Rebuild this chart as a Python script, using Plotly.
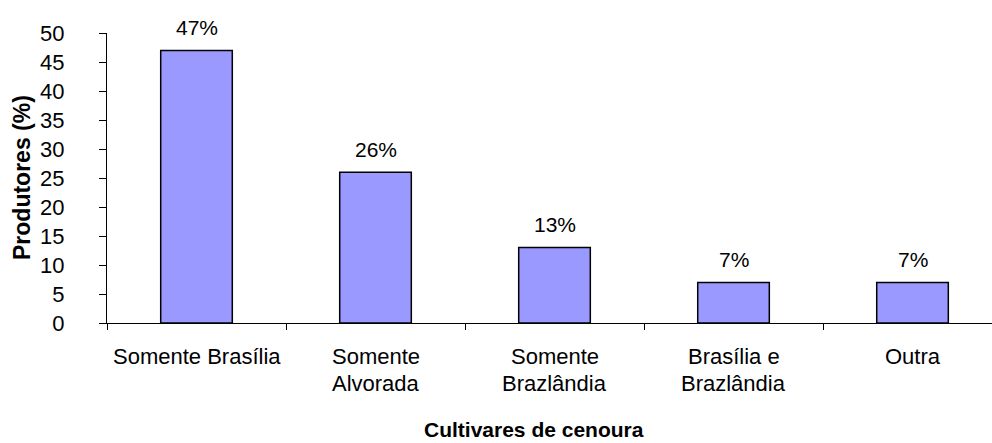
import plotly.graph_objects as go

categories = ["Somente Brasília", "Somente<br>Alvorada", "Somente<br>Brazlândia",
              "Brasília e<br>Brazlândia", "Outra"]
values = [47, 26, 13, 7, 7]
value_labels = ["47%", "26%", "13%", "7%", "7%"]
y_ticks = [0, 5, 10, 15, 20, 25, 30, 35, 40, 45, 50]

FONT = "Liberation Sans, Arial, sans-serif"

fig = go.Figure()
fig.add_trace(go.Bar(
    x=categories, y=values,
    marker=dict(color="#9999FF", line=dict(color="black", width=1.5)),
    width=0.4, hoverinfo="skip",
))

annotations = []
for c, v, t in zip(categories, values, value_labels):
    annotations.append(dict(x=c, y=v, xref="x", yref="y", text=t, showarrow=False,
                            yanchor="middle", yshift=23,
                            font=dict(family=FONT, size=21, color="black")))
for c in categories:
    lines = c.split("<br>")
    for i, line in enumerate(lines):
        annotations.append(dict(x=c, y=0, xref="x", yref="paper", text=line, showarrow=False,
                                yanchor="middle", yshift=-33 - 27 * i,
                                font=dict(family=FONT, size=22, color="black")))
annotations.append(dict(x=0.482, y=0, xref="paper", yref="paper", text="<b>Cultivares de cenoura</b>",
                        showarrow=False, yanchor="middle", yshift=-106,
                        font=dict(family=FONT, size=21, color="black")))
annotations.append(dict(x=0, y=0.5, xref="paper", yref="paper", text="<b>Produtores (%)</b>",
                        showarrow=False, textangle=-90, xanchor="center", xshift=-85,
                        font=dict(family=FONT, size=23, color="black")))

fig.update_layout(
    width=992, height=443,
    margin=dict(l=107, r=0, t=33, b=120, pad=0, autoexpand=False),
    plot_bgcolor="white", paper_bgcolor="white",
    showlegend=False,
    annotations=annotations,
    font=dict(family=FONT, size=20, color="black"),
    xaxis=dict(type="category", range=[-0.5, 4.444], showticklabels=False, automargin=False,
               tickson="boundaries", ticks="outside", ticklen=6, tickcolor="black",
               showline=True, linecolor="black", linewidth=1, showgrid=False, zeroline=False),
    yaxis=dict(range=[0, 50], tickvals=y_ticks, ticks="outside", ticklen=7, tickcolor="black",
               showline=True, linecolor="black", linewidth=1, showgrid=False, zeroline=False,
               automargin=False,
               ticklabelstandoff=30, tickfont=dict(family=FONT, size=22, color="black")),
)

fig.write_html("out.html", config={"displayModeBar": False},
               post_script="document.body.style.margin='0';")
